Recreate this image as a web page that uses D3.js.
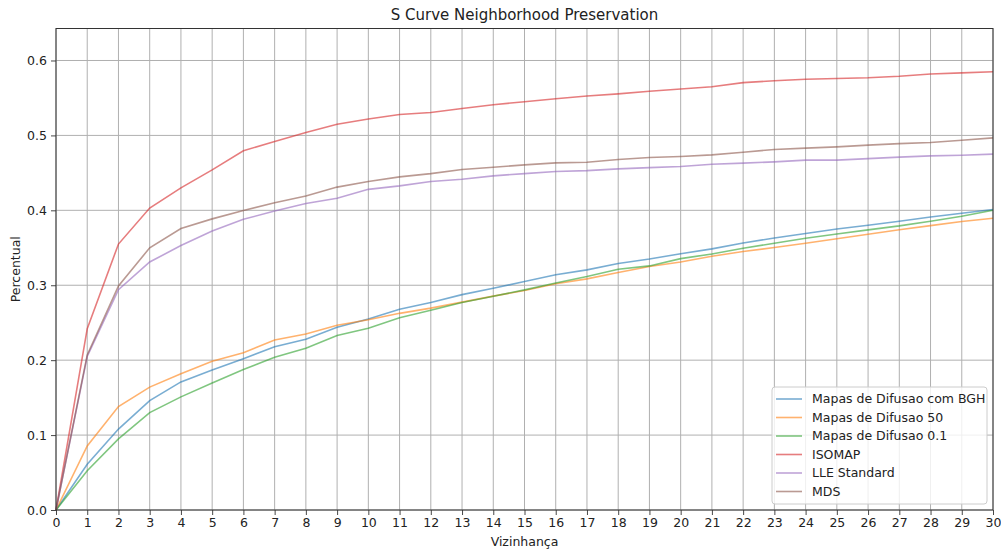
<!DOCTYPE html>
<html>
<head>
<meta charset="utf-8">
<script src="https://cdn.jsdelivr.net/npm/d3@7"></script>
<style>
  body { margin: 0; background: #fff; }
  text { font-family: "DejaVu Sans", sans-serif; fill: #222; }
</style>
</head>
<body>
<div id="main"></div>
<script>
// neighbourhood size 0..30
var vizinhanca = d3.range(0, 31);

var seriesNames = ['Mapas de Difusao com BGH', 'Mapas de Difusao 50', 'Mapas de Difusao 0.1',
  'ISOMAP', 'LLE Standard', 'MDS'];
var seriesColors = ['#1f77b4', '#ff7f0e', '#2ca02c', '#d62728', '#9467bd', '#8c564b'];

var difusaoBGH = [0, 0.061, 0.108, 0.146, 0.171, 0.187, 0.202, 0.218, 0.228, 0.244, 0.255,
  0.268, 0.277, 0.2875, 0.296, 0.305, 0.314, 0.3205, 0.329, 0.335, 0.342,
  0.3485, 0.3565, 0.363, 0.369, 0.375, 0.380, 0.3855, 0.391, 0.396, 0.401];
var difusao50 = [0, 0.0855, 0.138, 0.164, 0.182, 0.1985, 0.210, 0.227, 0.235, 0.2465, 0.254,
  0.2625, 0.2695, 0.2775, 0.2855, 0.293, 0.302, 0.3085, 0.317, 0.325, 0.331,
  0.3387, 0.345, 0.3503, 0.356, 0.362, 0.368, 0.374, 0.3796, 0.385, 0.3895];
var difusao01 = [0, 0.0525, 0.095, 0.130, 0.151, 0.1695, 0.1875, 0.204, 0.216, 0.233, 0.2426,
  0.2565, 0.2665, 0.277, 0.2853, 0.2938, 0.303, 0.3116, 0.3214, 0.3258, 0.3355,
  0.3418, 0.3494, 0.3561, 0.3628, 0.3685, 0.3739, 0.3792, 0.3855, 0.392, 0.400];
var isomap = [0, 0.242, 0.355, 0.403, 0.430, 0.454, 0.4795, 0.492, 0.504, 0.515, 0.522,
  0.528, 0.5305, 0.536, 0.541, 0.545, 0.549, 0.5525, 0.5555, 0.559, 0.562,
  0.565, 0.5705, 0.573, 0.575, 0.576, 0.577, 0.579, 0.582, 0.5835, 0.585];
var lle = [0, 0.205, 0.294, 0.331, 0.353, 0.3725, 0.388, 0.399, 0.409, 0.416, 0.428,
  0.4326, 0.4384, 0.4415, 0.446, 0.449, 0.4518, 0.453, 0.4553, 0.457, 0.4585,
  0.4616, 0.463, 0.4647, 0.467, 0.467, 0.469, 0.471, 0.4727, 0.4736, 0.475];
var mds = [0, 0.207, 0.299, 0.350, 0.3756, 0.3886, 0.3997, 0.410, 0.419, 0.431, 0.4384,
  0.4446, 0.449, 0.4544, 0.4576, 0.4607, 0.4633, 0.4642, 0.4678, 0.4705, 0.4718,
  0.474, 0.4776, 0.4812, 0.483, 0.4847, 0.487, 0.489, 0.4905, 0.4936, 0.4967];

var yTicks = [0.0, 0.1, 0.2, 0.3, 0.4, 0.5, 0.6];

var allSeries = [difusaoBGH, difusao50, difusao01, isomap, lle, mds];

var width = 1001, height = 554;
var margin = {top: 28.5, right: 8, bottom: 44, left: 56};

var svg = d3.select('#main')
  .append('svg')
  .attr('width', width)
  .attr('height', height);

var x = d3.scaleLinear()
  .domain([0, 30])
  .range([margin.left, width - margin.right]);

var y = d3.scaleLinear()
  .domain([0, 0.6427])
  .range([height - margin.bottom, margin.top]);

// grid
svg.append('g')
  .selectAll('line')
  .data(vizinhanca)
  .enter()
  .append('line')
  .attr('x1', function(d) { return x(d); })
  .attr('x2', function(d) { return x(d); })
  .attr('y1', y.range()[0])
  .attr('y2', y.range()[1])
  .attr('stroke', '#b0b0b0')
  .attr('stroke-width', 1);

svg.append('g')
  .selectAll('line')
  .data(yTicks)
  .enter()
  .append('line')
  .attr('x1', x.range()[0])
  .attr('x2', x.range()[1])
  .attr('y1', function(d) { return y(d); })
  .attr('y2', function(d) { return y(d); })
  .attr('stroke', '#b0b0b0')
  .attr('stroke-width', 1);

// lines
var line = d3.line()
  .x(function(d, i) { return x(vizinhanca[i]); })
  .y(function(d) { return y(d); });

svg.append('g')
  .selectAll('path')
  .data(allSeries)
  .enter()
  .append('path')
  .attr('d', line)
  .attr('fill', 'none')
  .attr('stroke', function(d, i) { return seriesColors[i]; })
  .attr('stroke-opacity', 0.6)
  .attr('stroke-width', 1.6);

// axes
var xAxis = svg.append('g')
  .attr('transform', 'translate(0,' + y.range()[0] + ')')
  .call(d3.axisBottom(x).tickValues(vizinhanca).tickFormat(d3.format('d')).tickSize(5).tickPadding(3));

var yAxis = svg.append('g')
  .attr('transform', 'translate(' + x.range()[0] + ',0)')
  .call(d3.axisLeft(y).tickValues(yTicks).tickFormat(d3.format('.1f')).tickSize(5).tickPadding(4));

[xAxis, yAxis].forEach(function(a) {
  a.select('.domain').remove();
  a.selectAll('.tick line').attr('stroke', '#333').attr('stroke-width', 0.9);
  a.selectAll('.tick text')
    .attr('font-family', '"DejaVu Sans", sans-serif')
    .attr('font-size', 12.5)
    .attr('fill', '#222');
});

// frame
svg.append('rect')
  .attr('x', x.range()[0])
  .attr('y', y.range()[1])
  .attr('width', x.range()[1] - x.range()[0])
  .attr('height', y.range()[0] - y.range()[1])
  .attr('fill', 'none')
  .attr('stroke', '#333')
  .attr('stroke-width', 1);

// labels
svg.append('text')
  .attr('x', (x.range()[0] + x.range()[1]) / 2)
  .attr('y', 20)
  .attr('text-anchor', 'middle')
  .attr('font-size', 15)
  .text('S Curve Neighborhood Preservation');

svg.append('text')
  .attr('x', (x.range()[0] + x.range()[1]) / 2)
  .attr('y', 546)
  .attr('text-anchor', 'middle')
  .attr('font-size', 12.5)
  .text('Vizinhança');

svg.append('text')
  .attr('transform', 'translate(20,' + (y.range()[0] + y.range()[1]) / 2 + ') rotate(-90)')
  .attr('text-anchor', 'middle')
  .attr('font-size', 12.5)
  .text('Percentual');

// legend
var legend = svg.append('g')
  .attr('transform', 'translate(772,387)');

legend.append('rect')
  .attr('width', 215)
  .attr('height', 117)
  .attr('rx', 3)
  .attr('fill', '#fff')
  .attr('fill-opacity', 0.8)
  .attr('stroke', '#ccc');

var items = legend.selectAll('g.item')
  .data(seriesNames)
  .enter()
  .append('g')
  .attr('class', 'item')
  .attr('transform', function(d, i) { return 'translate(0,' + (12 + i * 18.5) + ')'; });

items.append('line')
  .attr('x1', 4)
  .attr('x2', 30)
  .attr('stroke', function(d, i) { return seriesColors[i]; })
  .attr('stroke-opacity', 0.6)
  .attr('stroke-width', 1.6);

items.append('text')
  .attr('x', 40)
  .attr('dy', '0.35em')
  .attr('font-size', 12.5)
  .text(function(d) { return d; });
</script>
</body>
</html>
